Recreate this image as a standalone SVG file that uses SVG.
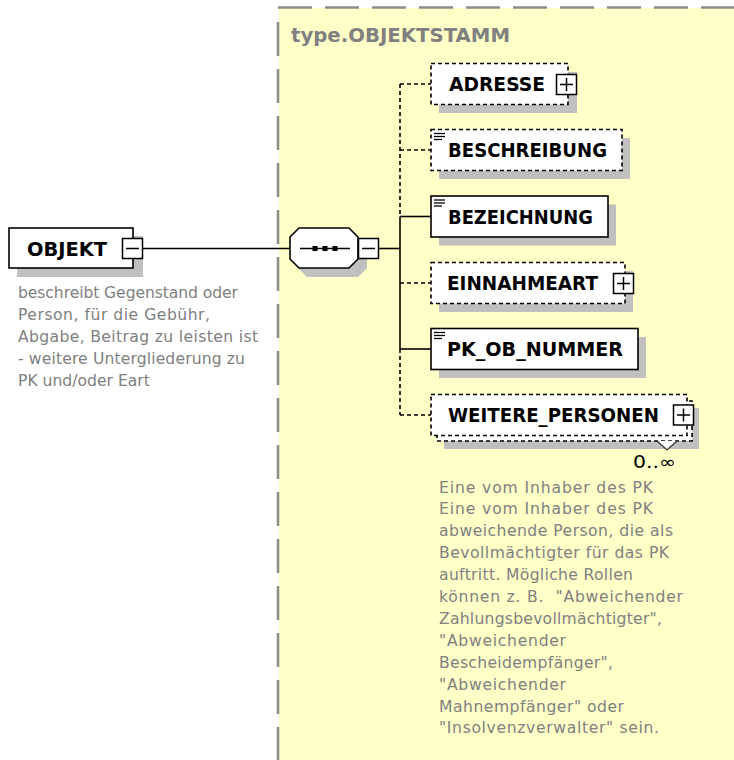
<svg xmlns="http://www.w3.org/2000/svg" width="734" height="760" viewBox="0 0 734 760">
<style>
.lbl{font-family:"DejaVu Sans","Verdana",sans-serif;font-weight:bold;font-size:19px;fill:#000}
.doc{font-family:"DejaVu Sans","Verdana",sans-serif;font-size:15.6px;fill:#808080;white-space:pre}
.ttl{font-family:"DejaVu Sans","Verdana",sans-serif;font-weight:bold;font-size:19px;fill:#808080}
.occ{font-family:"DejaVu Sans","Verdana",sans-serif;font-size:17px;fill:#000}
.box{fill:#fff;stroke:#000;stroke-width:1.6}
.opt{fill:#fff;stroke:#000;stroke-width:1.6;stroke-dasharray:4 3}
.shd{fill:#c0c0c0;stroke:none}
.btn{fill:#fff;stroke:#000;stroke-width:1.5}
.sym{stroke:#000;stroke-width:1.5;fill:none}
.con{stroke:#000;stroke-width:1.6;fill:none}
.cond{stroke:#000;stroke-width:1.6;fill:none;stroke-dasharray:4 3}
.ico{stroke:#000;stroke-width:1.3}
</style>

<g id="type-OBJEKTSTAMM">
  <rect x="279" y="8" width="455" height="752" fill="#ffffc8"/>
  <line x1="278" y1="7.5" x2="734" y2="7.5" stroke="#8c8c8c" stroke-width="2.5" stroke-dasharray="34 13"/>
  <line x1="278" y1="22" x2="278" y2="760" stroke="#8c8c8c" stroke-width="2.5" stroke-dasharray="34 13"/>
  <text class="ttl" x="291" y="41.5" textLength="219" lengthAdjust="spacingAndGlyphs">type.OBJEKTSTAMM</text>
</g>

<g id="connectors">
  <line class="con" x1="143" y1="248.5" x2="290" y2="248.5"/>
  <line class="con" x1="379" y1="248.5" x2="400" y2="248.5"/>
  <line class="cond" x1="400" y1="84" x2="400" y2="216.5"/>
  <line class="con" x1="400" y1="216.5" x2="400" y2="349"/>
  <line class="cond" x1="400" y1="349" x2="400" y2="415"/>
  <line class="cond" x1="400" y1="84" x2="431" y2="84"/>
  <line class="cond" x1="400" y1="150" x2="431" y2="150"/>
  <line class="con" x1="400" y1="216.5" x2="431" y2="216.5"/>
  <line class="cond" x1="400" y1="283" x2="431" y2="283"/>
  <line class="con" x1="400" y1="349" x2="431" y2="349"/>
  <line class="cond" x1="400" y1="415" x2="431" y2="415"/>
</g>

<g id="OBJEKT">
  <rect class="shd" x="17" y="236" width="126" height="41"/>
  <rect class="box" x="9" y="228" width="124" height="40"/>
  <text class="lbl" x="27" y="255.5" textLength="80" lengthAdjust="spacingAndGlyphs">OBJEKT</text>
  <rect class="btn" x="122.5" y="238.5" width="20" height="20"/>
  <line class="sym" x1="126" y1="248.5" x2="139" y2="248.5"/>
  <text class="doc" x="18" y="298" textLength="220">beschreibt Gegenstand oder</text>
  <text class="doc" x="18" y="320" textLength="192">Person, für die Gebühr,</text>
  <text class="doc" x="18" y="342" textLength="240">Abgabe, Beitrag zu leisten ist</text>
  <text class="doc" x="18" y="363.5" textLength="227">- weitere Untergliederung zu</text>
  <text class="doc" x="18" y="385.5">PK und/oder Eart</text>
</g>

<g id="sequence">
  <polygon class="shd" points="307,237 358,237 367,246 367,268 358,277 307,277 298,268 298,246"/>
  <polygon class="box" points="299,228 349,228 358,237 358,259 349,268 299,268 290,259 290,237"/>
  <line class="sym" x1="300" y1="248.5" x2="350" y2="248.5"/>
  <rect x="312.5" y="246" width="5" height="5" fill="#000"/>
  <rect x="322.5" y="246" width="5" height="5" fill="#000"/>
  <rect x="332.5" y="246" width="5" height="5" fill="#000"/>
  <rect class="btn" x="358.5" y="238.5" width="20" height="20"/>
  <line class="sym" x1="362" y1="248.5" x2="375" y2="248.5"/>
</g>

<g id="ADRESSE">
  <rect class="shd" x="439" y="72" width="138" height="41"/>
  <rect class="opt" x="431" y="63.5" width="137" height="41"/>
  <text class="lbl" x="449" y="91" textLength="96" lengthAdjust="spacingAndGlyphs">ADRESSE</text>
  <rect class="btn" x="556.5" y="74.5" width="20" height="20"/>
  <line class="sym" x1="560" y1="84.5" x2="573" y2="84.5"/>
  <line class="sym" x1="566.5" y1="78" x2="566.5" y2="91"/>
</g>

<g id="BESCHREIBUNG">
  <rect class="shd" x="439" y="138" width="191" height="41"/>
  <rect class="opt" x="431" y="129.5" width="191" height="41"/>
  <line class="ico" x1="434" y1="133.5" x2="445" y2="133.5"/>
  <line class="ico" x1="434" y1="136.5" x2="445" y2="136.5"/>
  <line class="ico" x1="434" y1="139.5" x2="442" y2="139.5"/>
  <text class="lbl" x="448" y="157" textLength="159" lengthAdjust="spacingAndGlyphs">BESCHREIBUNG</text>
</g>

<g id="BEZEICHNUNG">
  <rect class="shd" x="439" y="204.5" width="177" height="41"/>
  <rect class="box" x="431" y="196" width="177" height="41"/>
  <line class="ico" x1="434" y1="200" x2="445" y2="200"/>
  <line class="ico" x1="434" y1="203" x2="445" y2="203"/>
  <line class="ico" x1="434" y1="206" x2="442" y2="206"/>
  <text class="lbl" x="448" y="223.5" textLength="145" lengthAdjust="spacingAndGlyphs">BEZEICHNUNG</text>
</g>

<g id="EINNAHMEART">
  <rect class="shd" x="439" y="271" width="194" height="41"/>
  <rect class="opt" x="431" y="262.5" width="194" height="41"/>
  <text class="lbl" x="447" y="290" textLength="151" lengthAdjust="spacingAndGlyphs">EINNAHMEART</text>
  <rect class="btn" x="613.5" y="273.5" width="20" height="20"/>
  <line class="sym" x1="617" y1="283.5" x2="630" y2="283.5"/>
  <line class="sym" x1="623.5" y1="277" x2="623.5" y2="290"/>
</g>

<g id="PK_OB_NUMMER">
  <rect class="shd" x="439" y="337" width="207" height="41"/>
  <rect class="box" x="431" y="328.5" width="207" height="41"/>
  <line class="ico" x1="434" y1="332.5" x2="445" y2="332.5"/>
  <line class="ico" x1="434" y1="335.5" x2="445" y2="335.5"/>
  <line class="ico" x1="434" y1="338.5" x2="442" y2="338.5"/>
  <text class="lbl" x="447" y="356" textLength="176" lengthAdjust="spacingAndGlyphs">PK_OB_NUMMER</text>
</g>

<g id="WEITERE_PERSONEN">
  <rect class="shd" x="444" y="408" width="255" height="41"/>
  <rect class="opt" x="437" y="401" width="255" height="40"/>
  <rect class="opt" x="431" y="394.5" width="256" height="41"/>
  <text class="lbl" x="448" y="422" textLength="211" lengthAdjust="spacingAndGlyphs">WEITERE_PERSONEN</text>
  <rect class="btn" x="673.5" y="405" width="20" height="20"/>
  <line class="sym" x1="677" y1="415" x2="690" y2="415"/>
  <line class="sym" x1="683.5" y1="408.5" x2="683.5" y2="421.5"/>
  <polyline points="657,441 667,450 677,441" fill="#fff" stroke="#333" stroke-width="1.3"/>
  <text class="occ" x="633" y="468" textLength="43" lengthAdjust="spacingAndGlyphs">0..∞</text>
  <text class="doc" x="439" y="492.5" textLength="214">Eine vom Inhaber des PK</text>
  <text class="doc" x="439" y="514.4" textLength="214">Eine vom Inhaber des PK</text>
  <text class="doc" x="439" y="536.3" textLength="234">abweichende Person, die als</text>
  <text class="doc" x="439" y="558.2" textLength="230">Bevollmächtigter für das PK</text>
  <text class="doc" x="439" y="580.1" textLength="194">auftritt. Mögliche Rollen</text>
  <text class="doc" x="439" y="602" textLength="244">können z. B.  "Abweichender</text>
  <text class="doc" x="439" y="623.9" textLength="223">Zahlungsbevollmächtigter",</text>
  <text class="doc" x="439" y="645.8" textLength="127">"Abweichender</text>
  <text class="doc" x="439" y="667.7" textLength="174">Bescheidempfänger",</text>
  <text class="doc" x="439" y="689.6" textLength="127">"Abweichender</text>
  <text class="doc" x="439" y="711.5" textLength="185">Mahnempfänger" oder</text>
  <text class="doc" x="439" y="733.4" textLength="220">"Insolvenzverwalter" sein.</text>
</g>
</svg>
